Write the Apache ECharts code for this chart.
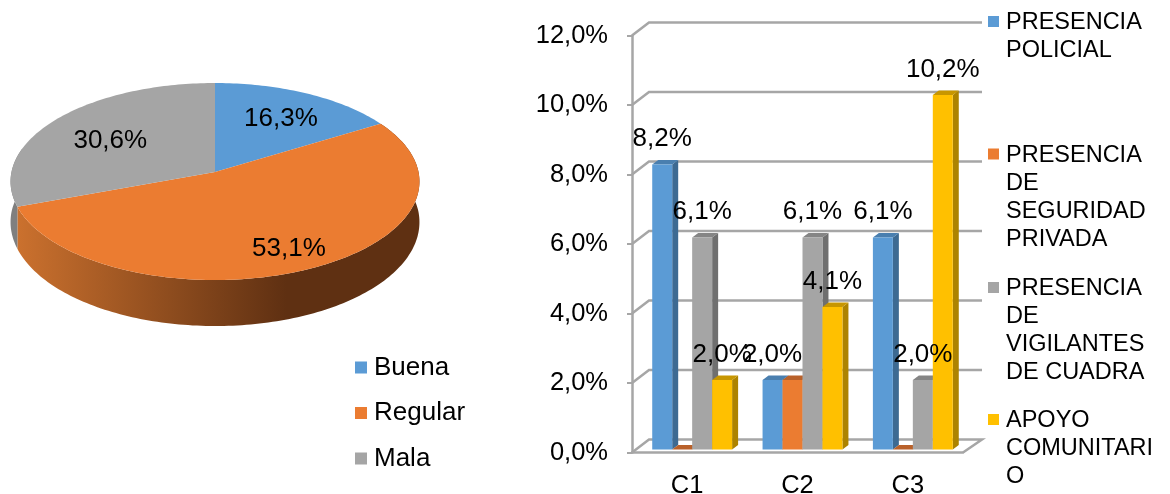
<!DOCTYPE html>
<html>
<head>
<meta charset="utf-8">
<style>html,body{margin:0;padding:0;background:#fff}#c{width:1170px;height:494px}</style>
<script src="https://cdn.jsdelivr.net/npm/echarts@6/dist/echarts.min.js"></script>
</head>
<body>
<div id="c"></div>
<script>
// ---- data ----
const pieNames = ['Buena', 'Regular', 'Mala'];
const pieValues = [16.3, 53.1, 30.6];
const categories = ['C1', 'C2', 'C3'];
const policial = [8.2, 2.0, 6.1];
const seguridad = [0, 2.0, 0];
const vigilantes = [6.1, 6.1, 2.0];
const comunitario = [2.0, 4.1, 10.2];
const yTicks = [0, 2, 4, 6, 8, 10, 12];
const barNames = ['PRESENCIA POLICIAL', 'PRESENCIA DE SEGURIDAD PRIVADA', 'PRESENCIA DE VIGILANTES DE CUADRA', 'APOYO COMUNITARIO'];
const barLegendText = ['PRESENCIA\nPOLICIAL', 'PRESENCIA\nDE\nSEGURIDAD\nPRIVADA', 'PRESENCIA\nDE\nVIGILANTES\nDE CUADRA', 'APOYO\nCOMUNITARI\nO'];

// ---- style ----
const FONT = '"Liberation Sans", Arial, sans-serif';
const FS = 26;
const AXIS_FS = 25.5;
const GRID = '#A6A6A6';
const pieColors = ['#5B9BD5', '#EB7C31', '#A5A5A5'];
const barColors = ['#5B9BD5', '#EB7C31', '#A5A5A5', '#FFC000'];
const barSide = ['#3D6A92', '#B05B22', '#6F6F6F', '#AD8300'];
const barCap = ['#4A7FAF', '#B9612A', '#858585', '#C79600'];
const pct = v => v.toFixed(1).replace('.', ',') + '%';

// ---- 3D pie projection ----
const P = {cx: 215, ay: 172, a: 97.6, b: 203.5, k: 0.0965};
const pieLabelR = [0.7, 0.78, 0.65];
const PIE_LABEL_DROP = 3.5;
function proj(t, r, drop) {
  const u = Math.sin(t), v = Math.cos(t), d = 1 + P.k * r * v;
  return [P.cx + P.b * r * u / d, P.ay - P.a * r * v / d + (drop || 0)];
}
const sideDrop = t => 40 + 6 * Math.max(0, -Math.cos(t));
function arc(t0, t1, r, dropFn) {
  const out = [], n = Math.max(2, Math.ceil(Math.abs(t1 - t0) / 0.02));
  for (let i = 0; i <= n; i++) {
    const t = t0 + (t1 - t0) * i / n;
    out.push(proj(t, r, dropFn ? dropFn(t) : 0));
  }
  return out;
}
const total = pieValues.reduce((s, v) => s + v, 0);
function pieSeries(idx) {
  return {
    type: 'custom', name: pieNames[idx], coordinateSystem: 'none',
    itemStyle: {color: pieColors[idx]}, silent: true,
    data: [[pieValues[idx]]],
    renderItem(params, api) {
      let before = 0;
      for (let i = 0; i < idx; i++) before += pieValues[i];
      const t0 = before / total * 2 * Math.PI;
      const t1 = (before + api.value(0)) / total * 2 * Math.PI;
      const children = [];
      if (idx === 1) {
        children.push({type: 'polygon', z2: 1,
          shape: {points: arc(t0, t1, 1).concat(arc(t1, t0, 1, sideDrop))},
          style: {fill: new echarts.graphic.LinearGradient(17, 0, 419, 0,
            [{offset: 0, color: '#CB712E'}, {offset: 0.67, color: '#5F3012'}, {offset: 1, color: '#5F3012'}], true)}});
      }
      if (idx === 2) {
        const end = Math.min(t1, t0 + 0.6);
        children.push({type: 'polygon', z2: 1,
          shape: {points: arc(t0, end, 1).concat(arc(end, t0, 1, sideDrop))},
          style: {fill: '#7F7F7F'}});
      }
      children.push({type: 'polygon', z2: 2,
        shape: {points: [proj(0, 0)].concat(arc(t0, t1, 1))},
        style: {fill: pieColors[idx]}});
      const lp = proj((t0 + t1) / 2, pieLabelR[idx]);
      children.push({type: 'text', z2: 3,
        style: {text: pct(api.value(0)), x: lp[0], y: lp[1] + PIE_LABEL_DROP, align: 'center', verticalAlign: 'middle',
          font: FS + 'px ' + FONT, fill: '#000'}});
      return {type: 'group', children};
    }
  };
}

// ---- 3D bars ----
const BAR = {ratio: 0.181, shift: 5, lift: 3, dx: 6, dy: 4.5};
const WALL = {dx: 17, dy: 13, rightDx: 19};
function barSeries(name, values, idx, showLabel) {
  return {
    type: 'custom', name, coordinateSystem: 'cartesian2d', xAxisIndex: 0, yAxisIndex: 0,
    itemStyle: {color: barColors[idx]}, silent: true, clip: false, z: 3,
    encode: {x: 0, y: 1},
    data: values.map((v, i) => [categories[i], v]),
    renderItem(params, api) {
      const v = api.value(1);
      const top = api.coord([api.value(0), v]);
      const base = api.coord([api.value(0), 0]);
      const w = api.size([1, 0])[0] * BAR.ratio;
      const x0 = top[0] + BAR.shift + (idx - 2) * w, x1 = x0 + w;
      const yT = top[1] - BAR.lift, yB = base[1] - BAR.lift;
      const ch = [
        {type: 'polygon', shape: {points: [[x1, yT], [x1 + BAR.dx, yT - BAR.dy], [x1 + BAR.dx, yB - BAR.dy], [x1, yB]]}, style: {fill: barSide[idx]}},
        {type: 'polygon', shape: {points: [[x0, yT], [x0 + BAR.dx, yT - BAR.dy], [x1 + BAR.dx, yT - BAR.dy], [x1, yT]]}, style: {fill: barCap[idx]}}
      ];
      if (v > 0) ch.push({type: 'rect', shape: {x: x0, y: yT, width: w, height: yB - yT}, style: {fill: barColors[idx]}});
      if (showLabel && v > 0) ch.push({type: 'text', z2: 50,
        style: {text: pct(v), x: (x0 + x1) / 2, y: yT - 25.5, align: 'center', verticalAlign: 'middle', font: FS + 'px ' + FONT, fill: '#000'}});
      return {type: 'group', children: ch};
    }
  };
}
const wallSeries = {
  type: 'custom', name: 'walls', coordinateSystem: 'cartesian2d', silent: true, clip: false, z: 1,
  encode: {x: 0, y: 1},
  data: yTicks.map(t => [categories[0], t]),
  renderItem(params, api) {
    const cs = params.coordSys;
    const y = api.coord([api.value(0), api.value(1)])[1];
    const L = cs.x, R = cs.x + cs.width;
    const pts = [[L, y], [L + WALL.dx, y - WALL.dy], [R + WALL.rightDx, y - WALL.dy]];
    if (api.value(1) === 0) pts.push([R, y]);
    return {type: 'polyline', shape: {points: pts}, style: {stroke: GRID, lineWidth: 2.5, fill: 'none'}};
  }
};

// ---- legends ----
function markerPath(size, gap, h, yTop) {
  return 'path://M0 ' + yTop + 'h' + size + 'v' + size + 'h-' + size + 'z M0 0h0.01v0.01h-0.01z M' + (size + gap) + ' ' + h + 'h0.01v0.01h-0.01z';
}
const barLegendTop = [9, 141.5, 275, 407];
const barLegendH = [56, 112, 112, 84];
const barLegends = barNames.map((n, i) => ({
  data: [n], left: 988, top: barLegendTop[i], padding: 0, itemGap: 0,
  itemWidth: 13, itemHeight: barLegendH[i],
  icon: markerPath(11, 2, barLegendH[i], 7),
  formatter: () => barLegendText[i],
  selectedMode: false,
  textStyle: {fontFamily: FONT, fontSize: 23.5, lineHeight: 28, color: '#000'}
}));
const pieLegend = {
  data: pieNames, left: 355, top: 354.5, padding: 0, orient: 'vertical', itemGap: 19.5,
  itemWidth: 14, itemHeight: 12, icon: markerPath(12, 2, 12, 0), selectedMode: false,
  textStyle: {fontFamily: FONT, fontSize: FS, color: '#000'}
};

const chart = echarts.init(document.getElementById('c'), null, {renderer: 'canvas'});
chart.setOption({
  animation: false,
  backgroundColor: '#fff',
  legend: [pieLegend].concat(barLegends),
  grid: {left: 632, width: 331, top: 35.5, height: 417, containLabel: false, outerBoundsMode: 'none'},
  xAxis: {type: 'category', data: categories, boundaryGap: true,
    axisLine: {lineStyle: {color: GRID, width: 2.5}}, axisTick: {show: false},
    axisLabel: {color: '#000', fontFamily: FONT, fontSize: AXIS_FS, margin: 20}},
  yAxis: {type: 'value', min: 0, max: 12, interval: 2,
    axisLine: {show: true, lineStyle: {color: GRID, width: 2.5}},
    axisTick: {show: true, length: 5, lineStyle: {color: GRID, width: 2}},
    splitLine: {show: false},
    axisLabel: {color: '#000', fontFamily: FONT, fontSize: AXIS_FS, margin: 24, padding: [4, 0, 0, 0], formatter: v => pct(v)}},
  series: [
    pieSeries(0), pieSeries(1), pieSeries(2),
    wallSeries,
    barSeries(barNames[0], policial, 0, true),
    barSeries(barNames[1], seguridad, 1, false),
    barSeries(barNames[2], vigilantes, 2, true),
    barSeries(barNames[3], comunitario, 3, true)
  ]
});
</script>
</body>
</html>
